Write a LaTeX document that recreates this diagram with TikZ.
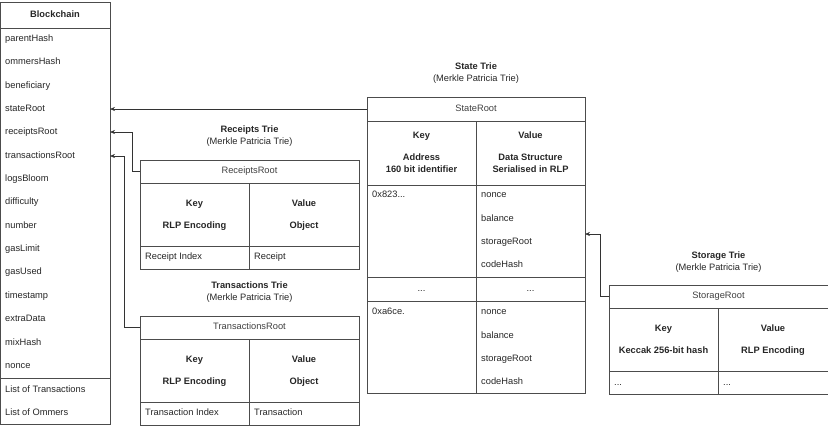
\documentclass[tikz,border=0pt]{standalone}
\usepackage{fontspec}
\setmainfont{Liberation Sans}
\usetikzlibrary{arrows.meta}
\begin{document}
\begin{tikzpicture}[x=1pt,y=-1pt,
  box/.style={draw=black!70,line width=0.6pt},
  t/.style={font=\fontsize{9.3}{11}\selectfont,text=black!85,inner sep=0pt,text height=7pt,text depth=2pt},
  tl/.style={t,anchor=west},
  tb/.style={t,font=\fontsize{9.3}{11}\selectfont\bfseries},
  hd/.style={t,text=black!75},
  ln/.style={draw=black!70,line width=0.6pt},
  arr/.style={draw=black!80,line width=0.6pt,-{Stealth[length=5pt,width=4pt]}}]
\useasboundingbox (0,0) rectangle (828,426);
% Blockchain
\draw[box] (0,2) rectangle (110,424);
\draw[ln] (0,28) -- (110,28);
\draw[ln] (0,378) -- (110,378);
\node[tb] (bt) at (55,15) {Blockchain};
\foreach \n/\y/\nm in {parentHash/39/b1,ommersHash/62/b2,beneficiary/86/b3,stateRoot/109/b4,receiptsRoot/132/b5,transactionsRoot/156/b6,logsBloom/179/b7,difficulty/202/b8,number/226/b9,gasLimit/249/b10,gasUsed/272/b11,timestamp/296/b12,extraData/319/b13,mixHash/343/b14,nonce/366/b15,List of Transactions/390/b16,List of Ommers/413/b17}
  \node[tl] (\nm) at (5,\y) {\n};
\coordinate (sr) at (110,109);
\coordinate (rr) at (110,132);
\coordinate (tr) at (110,156);
% State trie
\node[tb] (stt) at (476,67) {State Trie};
\node[t] (sts) at (476,79) {(Merkle Patricia Trie)};
\draw[box] (367,97) rectangle (585,393);
\draw[ln] (367,121) -- (585,121);
\draw[ln] (476,121) -- (476,393);
\draw[ln] (367,185) -- (585,185);
\draw[ln] (367,277) -- (585,277);
\draw[ln] (367,301) -- (585,301);
\node[hd] (sroot) at (476,109) {StateRoot};
\node[tb] (sk) at (421.5,136) {Key};
\node[tb] (sk2) at (421.5,158) {Address};
\node[tb] (sk3) at (421.5,170) {160 bit identifier};
\node[tb] (sv) at (530.5,136) {Value};
\node[tb] (sv2) at (530.5,158) {Data Structure};
\node[tb] (sv3) at (530.5,170) {Serialised in RLP};
\node[tl] (a1) at (372,195) {0x823...};
\node[tl] (a2) at (372,312) {0xa6ce.};
\node[t] (d1) at (421.5,289) {...};
\node[t] (d2) at (530.5,289) {...};
\foreach \n/\y/\nm in {nonce/195/v1,balance/219/v2,storageRoot/242/v3,codeHash/265/v4,nonce/312/w1,balance/336/w2,storageRoot/359/w3,codeHash/382/w4}
  \node[tl] (\nm) at (481,\y) {\n};
% Receipts trie
\node[tb] (rt) at (249.5,130) {Receipts Trie};
\node[t] (rts) at (249.5,142) {(Merkle Patricia Trie)};
\draw[box] (140,160) rectangle (359,269);
\draw[ln] (140,183) -- (359,183);
\draw[ln] (249,183) -- (249,269);
\draw[ln] (140,246) -- (359,246);
\node[hd] (rroot) at (249.5,171) {ReceiptsRoot};
\node[tb] (rk) at (194.5,204) {Key};
\node[tb] (rk2) at (194.5,226) {RLP Encoding};
\node[tb] (rv) at (304,204) {Value};
\node[tb] (rv2) at (304,226) {Object};
\node[tl] (r1) at (145,257) {Receipt Index};
\node[tl] (r2) at (254,257) {Receipt};
% Transactions trie
\node[tb] (tt) at (249.5,286) {Transactions Trie};
\node[t] (tts) at (249.5,298) {(Merkle Patricia Trie)};
\draw[box] (140,316) rectangle (359,425);
\draw[ln] (140,339) -- (359,339);
\draw[ln] (249,339) -- (249,425);
\draw[ln] (140,402) -- (359,402);
\node[hd] (troot) at (249.5,327) {TransactionsRoot};
\node[tb] (tk) at (194.5,360) {Key};
\node[tb] (tk2) at (194.5,382) {RLP Encoding};
\node[tb] (tv) at (304,360) {Value};
\node[tb] (tv2) at (304,382) {Object};
\node[tl] (t1) at (145,413) {Transaction Index};
\node[tl] (t2) at (254,413) {Transaction};
% Storage trie
\node[tb] (gt) at (718.5,256) {Storage Trie};
\node[t] (gts) at (718.5,268) {(Merkle Patricia Trie)};
\draw[box] (609,285) rectangle (828,394);
\draw[ln] (609,308) -- (828,308);
\draw[ln] (718,308) -- (718,394);
\draw[ln] (609,371) -- (828,371);
\node[hd] (groot) at (718.5,296) {StorageRoot};
\node[tb] (gk) at (663.5,329) {Key};
\node[tb] (gk2) at (663.5,351) {Keccak 256-bit hash};
\node[tb] (gv) at (773,329) {Value};
\node[tb] (gv2) at (773,351) {RLP Encoding};
\node[tl] (g1) at (614,383) {...};
\node[tl] (g2) at (723,383) {...};
% arrows
\coordinate (srL) at (367,109);
\coordinate (rrL) at (140,171);
\coordinate (trL) at (140,327);
\coordinate (grL) at (609,296);
\coordinate (stR) at (585,234);
\draw[arr] (srL) -- (sr);
\draw[arr] (rrL) -- (132,171) -- (132,132) -- (rr);
\draw[arr] (trL) -- (124,327) -- (124,156) -- (tr);
\draw[arr] (grL) -- (600,296) -- (600,234) -- (stR);
\end{tikzpicture}
\end{document}
